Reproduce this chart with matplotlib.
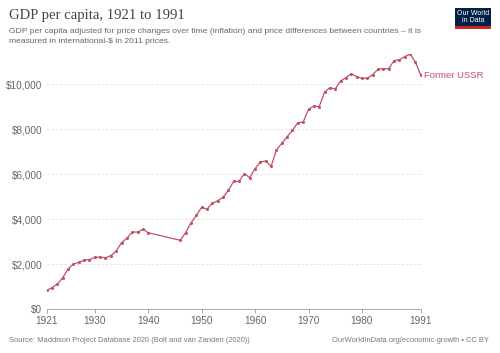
import matplotlib.pyplot as plt
from matplotlib.patches import Rectangle

years = list(range(1921, 1941)) + list(range(1946, 1992))
gdp = [
    831, 947, 1111, 1393, 1778, 2000, 2074, 2178, 2190, 2296,
    2310, 2280, 2370, 2578, 2948, 3140, 3422, 3420, 3540, 3392,
    3052, 3392, 3822, 4163, 4518, 4444, 4696, 4815, 4963, 5274,
    5674, 5674, 6015, 5837, 6236, 6533, 6578, 6340, 7067, 7363,
    7659, 7941, 8281, 8311, 8874, 9022, 8993, 9644, 9836, 9778,
    10133, 10280, 10458, 10324, 10253, 10253, 10413, 10653, 10680, 10680,
    11036, 11080, 11213, 11333, 10978, 10400,
]
country = "Former USSR"
xticks = [1921, 1930, 1940, 1950, 1960, 1970, 1980, 1991]
yticks = [0, 2000, 4000, 6000, 8000, 10000]

line_color = "#c15065"
text_gray = "#666666"

plt.rcParams['font.family'] = ['Liberation Sans', 'DejaVu Sans']

fig = plt.figure(figsize=(5, 3.53), dpi=100)
ax = fig.add_axes([0.0934, 0.1246, 0.748, 0.7224])

ax.plot(years, gdp, color=line_color, linewidth=0.9, marker='o', markersize=1.2)
ax.set_xlim(1921, 1991)
ax.set_ylim(0, 11333)

ax.set_xticks(xticks)
ax.set_xticklabels([str(t) for t in xticks])
ax.set_yticks(yticks)
ax.set_yticklabels(["$0"] + ["${:,}".format(v) for v in yticks[1:]])
ax.tick_params(axis='x', length=3, width=0.6, color="#999999", labelsize=7.2,
               labelcolor=text_gray, pad=2)
ax.tick_params(axis='y', length=0, labelsize=7.2, labelcolor=text_gray, pad=3)

for v in yticks[1:]:
    ax.axhline(v, color="#dddddd", linewidth=0.6, linestyle=(0, (3, 2)), zorder=0)

for s in ['top', 'right', 'left']:
    ax.spines[s].set_visible(False)
ax.spines['bottom'].set_color("#999999")
ax.spines['bottom'].set_linewidth(0.6)

ax.annotate(country, xy=(years[-1], gdp[-1]), xytext=(2.5, 0), textcoords='offset points',
            color=line_color, fontsize=6.8, va='center', ha='left', annotation_clip=False)

fig.text(0.018, 0.975, "GDP per capita, 1921 to 1991", family=['Liberation Serif'],
         fontsize=10.6, color="#444444", va='top', ha='left')
fig.text(0.018, 0.92,
         "GDP per capita adjusted for price changes over time (inflation) and price differences between countries – it is\n"
         "measured in international-$ in 2011 prices.",
         fontsize=6.1, color=text_gray, va='top', ha='left', linespacing=1.5)

fig.text(0.018, 0.035, "Source: Maddison Project Database 2020 (Bolt and van Zanden (2020))",
         fontsize=5.4, color="#777777", va='center', ha='left')
fig.text(0.977, 0.035, "OurWorldInData.org/economic-growth • CC BY",
         fontsize=5.4, color="#777777", va='center', ha='right')

# logo
fig.patches.append(Rectangle((0.910, 0.918), 0.072, 0.06, transform=fig.transFigure,
                             facecolor="#002147", edgecolor='none'))
fig.patches.append(Rectangle((0.910, 0.918), 0.072, 0.008, transform=fig.transFigure,
                             facecolor="#ce261e", edgecolor='none'))
fig.text(0.946, 0.952, "Our World\nin Data", fontsize=5.0, color="white",
         ha='center', va='center', linespacing=1.0)

fig.savefig("out.png", dpi=100)
